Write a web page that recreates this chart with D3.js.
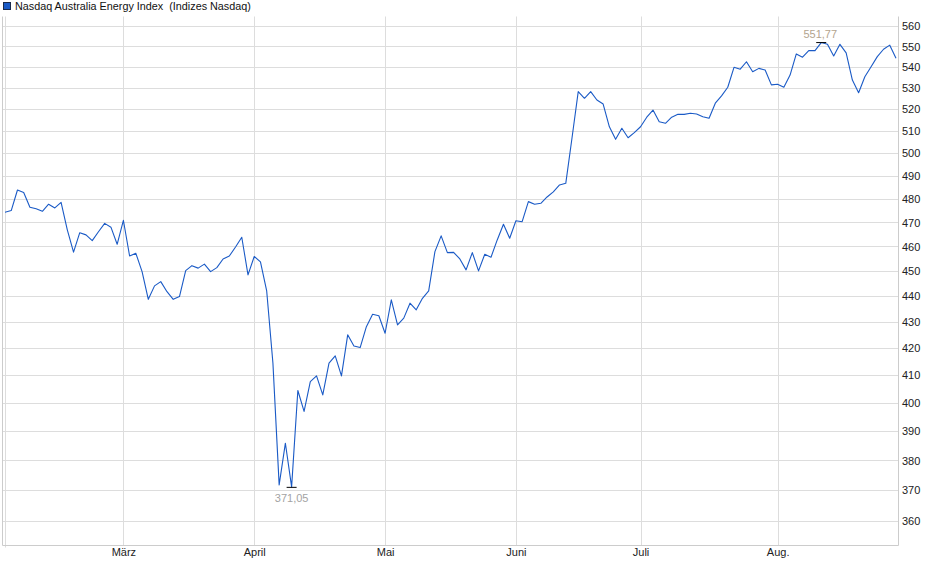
<!DOCTYPE html>
<html>
<head>
<meta charset="utf-8">
<script src="https://cdn.jsdelivr.net/npm/d3@7"></script>
<style>
  html, body { margin: 0; padding: 0; background: #fff; }
  svg { display: block; font-family: "Liberation Sans", Arial, sans-serif; }
</style>
</head>
<body>
<svg id="chart" width="940" height="579"></svg>
<script>
// ---- data ----
const seriesName = "Nasdaq Australia Energy Index";
const seriesSource = "(Indizes Nasdaq)";
// one value per trading day (Feb .. end of Aug)
const values = [
  474.2, 474.9, 483.7, 482.6, 476.3, 475.7, 474.6, 477.6, 476.0, 478.4,
  466.8, 457.6, 465.6, 464.7, 462.3, 466.0, 469.5, 467.9, 460.8, 470.8,
  456.0, 457.1, 449.7, 438.7, 444.0, 445.7, 441.7, 438.7, 439.8, 450.1,
  452.1, 451.1, 452.7, 449.7, 451.3, 454.8, 456.0, 459.7, 463.7, 448.4,
  455.8, 453.6, 442.0, 414.4, 371.7, 385.8, 371.05, 404.4, 396.9, 407.6,
  409.7, 402.8, 414.4, 417.1, 409.7, 425.0, 420.8, 420.2, 428.1, 432.9,
  432.3, 425.6, 438.5, 428.8, 431.4, 437.2, 434.6, 439.1, 442.0, 457.8,
  464.3, 457.4, 457.5, 454.8, 450.4, 457.4, 450.0, 456.7, 455.5, 462.6,
  469.1, 463.3, 470.6, 470.2, 478.7, 477.6, 478.0, 480.7, 482.9, 485.9,
  486.6, 506.7, 528.1, 525.0, 528.1, 524.2, 522.3, 511.8, 506.1, 511.1,
  506.8, 509.1, 511.8, 516.2, 519.5, 514.1, 513.4, 516.2, 517.5, 517.5,
  518.0, 517.7, 516.4, 515.7, 522.7, 526.1, 530.2, 539.7, 538.8, 542.4,
  537.6, 539.2, 538.4, 531.3, 531.6, 530.2, 536.0, 546.2, 544.6, 547.8,
  547.8, 551.77, 550.9, 545.2, 550.9, 546.7, 533.6, 527.6, 535.2, 540.0,
  544.9, 548.5, 550.5, 544.1
];
const monthLabels = ["März", "April", "Mai", "Juni", "Juli", "Aug."];
const monthStartIndex = [19, 40, 61, 82, 102, 124];
const yTicks = [360, 370, 380, 390, 400, 410, 420, 430, 440, 450, 460, 470, 480, 490, 500, 510, 520, 530, 540, 550, 560];

// ---- layout ----
const plot = { left: 2.5, right: 898.5, top: 16.5, bottom: 545.5 };
const svg = d3.select("#chart");

const x = d3.scaleLinear().domain([0, values.length - 1]).range([5, 896]);
const y = d3.scaleLog().domain([360, 560]).range([520.7, 26]);

const de = d3.formatLocale({ decimal: ",", thousands: ".", grouping: [3], currency: ["", "€"] });
const fmt = de.format(".2f");

const gridColor = "#dddddd";
const borderColor = "#cccccc";

// horizontal grid
svg.append("g").selectAll("line").data(yTicks).join("line")
  .attr("x1", plot.left).attr("x2", plot.right)
  .attr("y1", d => Math.round(y(d)) + 0.5).attr("y2", d => Math.round(y(d)) + 0.5)
  .attr("stroke", gridColor).attr("stroke-width", 1);

// vertical grid (month starts + first day)
const vIdx = [0].concat(monthStartIndex);
svg.append("g").selectAll("line").data(vIdx).join("line")
  .attr("x1", d => Math.round(x(d)) + 0.5).attr("x2", d => Math.round(x(d)) + 0.5)
  .attr("y1", plot.top).attr("y2", (d, i) => i === 0 ? plot.bottom + 2 : plot.bottom)
  .attr("stroke", gridColor).attr("stroke-width", 1);

// plot border
svg.append("path")
  .attr("d", `M${plot.left},${plot.top}V${plot.bottom}H${plot.right}V${plot.top}`)
  .attr("fill", "none").attr("stroke", borderColor).attr("stroke-width", 1);

// right axis (labels)
const yAxis = d3.axisRight(y).tickValues(yTicks).tickSize(0).tickPadding(0)
  .tickFormat(d3.format("d"));
const gy = svg.append("g").attr("transform", `translate(902,0)`).call(yAxis);
gy.select(".domain").remove();
gy.selectAll("text").attr("font-size", 11).attr("fill", "#222")
  .attr("font-family", "'Liberation Sans', Arial, sans-serif").attr("dy", "0.35em");

// bottom axis (labels)
const xAxis = d3.axisBottom(x).tickValues(monthStartIndex).tickSize(0).tickPadding(0)
  .tickFormat((d, i) => monthLabels[i]);
const gx = svg.append("g").attr("transform", `translate(0,548)`).call(xAxis);
gx.select(".domain").remove();
gx.selectAll("text").attr("font-size", 11).attr("fill", "#222")
  .attr("font-family", "'Liberation Sans', Arial, sans-serif").attr("dy", "0.71em");

// line
const line = d3.line().x((d, i) => x(i)).y(d => y(d));
svg.append("path").datum(values)
  .attr("d", line).attr("fill", "none")
  .attr("stroke", "#1a5ac6").attr("stroke-width", 1.1)
  .attr("stroke-linejoin", "round");

// max / min annotations
const maxI = d3.maxIndex(values);
const minI = d3.minIndex(values);
const ann = svg.append("g");
ann.append("line")
  .attr("x1", x(maxI) - 5).attr("x2", x(maxI) + 5)
  .attr("y1", y(values[maxI])).attr("y2", y(values[maxI]))
  .attr("stroke", "#000").attr("stroke-width", 1);
ann.append("text")
  .attr("x", x(maxI) - 1).attr("y", y(values[maxI]) - 5)
  .attr("text-anchor", "middle").attr("font-size", 11).attr("fill", "#b3a48e")
  .text(fmt(values[maxI]));
ann.append("line")
  .attr("x1", x(minI) - 5).attr("x2", x(minI) + 5)
  .attr("y1", y(values[minI]) + 0.5).attr("y2", y(values[minI]) + 0.5)
  .attr("stroke", "#000").attr("stroke-width", 1);
ann.append("text")
  .attr("x", x(minI)).attr("y", y(values[minI]) + 15)
  .attr("text-anchor", "middle").attr("font-size", 11).attr("fill", "#a3a3a3")
  .text(fmt(values[minI]));

// legend
const lg = svg.append("g");
lg.append("rect").attr("x", 3.5).attr("y", 2.5).attr("width", 7).attr("height", 7)
  .attr("fill", "#1a5ac6").attr("stroke", "#1b2a4a").attr("stroke-width", 1);
lg.append("text").attr("x", 15).attr("y", 10).attr("font-size", 10.8).attr("fill", "#111")
  .attr("xml:space", "preserve")
  .text(seriesName + "  " + seriesSource);
</script>
</body>
</html>
